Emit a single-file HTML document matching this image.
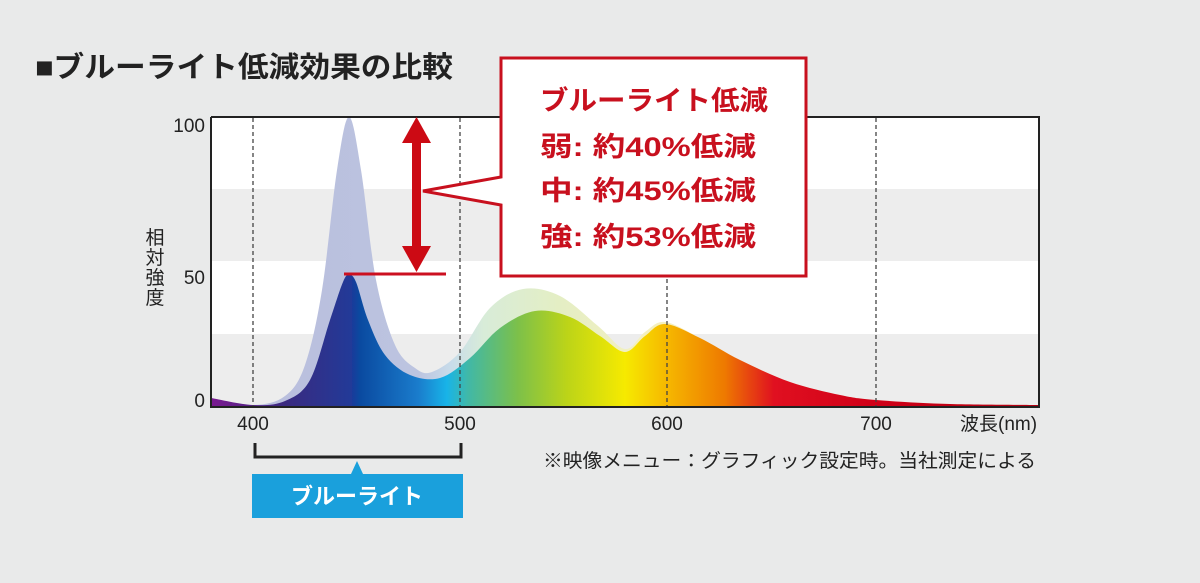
<!DOCTYPE html>
<html><head><meta charset="utf-8">
<style>
html,body{margin:0;padding:0;background:#e9eaea;}
svg{display:block;font-family:"Liberation Sans","Noto Sans CJK JP",sans-serif;}
</style></head><body>
<svg id="s" width="1200" height="583" viewBox="0 0 1200 583" xmlns="http://www.w3.org/2000/svg">
<defs>
<linearGradient id="g" gradientUnits="userSpaceOnUse" x1="211" y1="0" x2="1039" y2="0">
<stop offset="0" stop-color="#7a1a90"/>
<stop offset="0.09" stop-color="#3a2a80"/>
<stop offset="0.17" stop-color="#223a98"/>
<stop offset="0.165" stop-color="#1a3a9a"/>
<stop offset="0.18" stop-color="#0a4aa0"/>
<stop offset="0.25" stop-color="#1a7ccc"/>
<stop offset="0.285" stop-color="#18b4e8"/>
<stop offset="0.31" stop-color="#40b8a8"/>
<stop offset="0.37" stop-color="#7cc04a"/>
<stop offset="0.43" stop-color="#bcd418"/>
<stop offset="0.50" stop-color="#f6ea00"/>
<stop offset="0.55" stop-color="#f6b800"/>
<stop offset="0.62" stop-color="#ee7a00"/>
<stop offset="0.68" stop-color="#e01020"/>
<stop offset="0.80" stop-color="#d00018"/>
<stop offset="1" stop-color="#b00012"/>
</linearGradient>
<linearGradient id="gl" gradientUnits="userSpaceOnUse" x1="211" y1="0" x2="1039" y2="0">
<stop offset="0" stop-color="#b8bcdc"/>
<stop offset="0.25" stop-color="#bcc4e0"/>
<stop offset="0.29" stop-color="#c8dcea"/>
<stop offset="0.33" stop-color="#d8ecd8"/>
<stop offset="0.42" stop-color="#e4eec4"/>
<stop offset="0.52" stop-color="#f4f0c0"/>
<stop offset="1" stop-color="#f6e4c0"/>
</linearGradient>
</defs>
<text x="35" y="77" font-size="29" font-weight="bold" fill="#222" textLength="418" lengthAdjust="spacingAndGlyphs">■ブルーライト低減効果の比較</text>
<rect x="211" y="117" width="828" height="290" fill="#fff"/>
<rect x="211" y="189" width="828" height="72" fill="#ededed"/>
<rect x="211" y="334" width="828" height="72" fill="#ededed"/>
<path id="po" fill="url(#gl)"/>
<path id="pr" fill="url(#g)"/>
<g stroke="#444" stroke-width="1.3" stroke-dasharray="4,3">
<line x1="253" y1="118" x2="253" y2="406"/>
<line x1="460" y1="118" x2="460" y2="406"/>
<line x1="667" y1="118" x2="667" y2="406"/>
<line x1="876" y1="118" x2="876" y2="406"/>
</g>
<path d="M211,117 V407 H1039 V117 H211" fill="none" stroke="#222" stroke-width="2"/>
<g font-size="19" fill="#222" text-anchor="end">
<text x="205" y="132">100</text><text x="205" y="284">50</text><text x="205" y="407">0</text>
</g>
<g font-size="19" fill="#222" text-anchor="middle">
<text x="155" y="244">相</text><text x="155" y="264">対</text><text x="155" y="284">強</text><text x="155" y="304">度</text>
<text x="253" y="430">400</text><text x="460" y="430">500</text><text x="667" y="430">600</text><text x="876" y="430">700</text>
</g>
<text x="960" y="430" font-size="19" fill="#222">波長(nm)</text>
<text x="543" y="467" font-size="19" fill="#222" textLength="493" lengthAdjust="spacingAndGlyphs">※映像メニュー：グラフィック設定時。当社測定による</text>
<!-- arrow -->
<line x1="344" y1="274" x2="446" y2="274" stroke="#cc1020" stroke-width="3"/>
<rect x="412" y="140" width="9" height="110" fill="#cc0a14"/>
<polygon points="416.5,117 402,143 431,143" fill="#cc0a14"/>
<polygon points="416.5,272 402,246 431,246" fill="#cc0a14"/>
<!-- callout -->
<path d="M501,58 H806 V276 H501 V205 L423,191 L501,177 Z" fill="#fff" stroke="#c8101e" stroke-width="3"/>
<g font-size="27" font-weight="bold" fill="#c8101e">
<text x="540" y="110" textLength="228" lengthAdjust="spacingAndGlyphs">ブルーライト低減</text>
<text x="540" y="156" textLength="216" lengthAdjust="spacingAndGlyphs">弱: 約40%低減</text>
<text x="540" y="200" textLength="216" lengthAdjust="spacingAndGlyphs">中: 約45%低減</text>
<text x="540" y="246" textLength="216" lengthAdjust="spacingAndGlyphs">強: 約53%低減</text>
</g>
<!-- bracket -->
<path d="M255,443 V457 H461 V443" fill="none" stroke="#222" stroke-width="3"/>
<polygon points="357,461 351,474 363,474" fill="#1aa0dc"/>
<rect x="252" y="474" width="211" height="44" fill="#1aa0dc"/>
<text x="357" y="504" font-size="22" font-weight="bold" fill="#fff" text-anchor="middle">ブルーライト</text>
</svg>
<script>
function cr(p){var d="M"+p[0][0]+","+p[0][1];for(var i=0;i<p.length-1;i++){var a=p[i-1]||p[i],b=p[i],c=p[i+1],e=p[i+2]||c;
d+=" C"+(b[0]+(c[0]-a[0])/6).toFixed(1)+","+(b[1]+(c[1]-a[1])/6).toFixed(1)+" "+(c[0]-(e[0]-b[0])/6).toFixed(1)+","+(c[1]-(e[1]-b[1])/6).toFixed(1)+" "+c[0]+","+c[1];}
return d+" L1039,407 L211,407 Z";}
var tail=[[700,338],[740,360],[790,382],[840,395],[876,400],[950,404],[1039,405]];
var r=[[211,398],[253,405],[285,401],[310,380],[330,320],[343,282],[349,275],[356,282],[368,320],[385,355],[410,375],[440,378],[470,358],[500,328],[535,311],[570,317],[600,336],[625,352],[645,336],[665,324]].concat(tail);
var o=[[211,398],[253,405],[285,396],[305,365],[322,290],[337,170],[349,117],[361,170],[376,280],[395,345],[415,368],[432,372],[460,352],[490,308],[523,289],[560,296],[598,326],[625,349],[645,332],[665,322]].concat(tail);
document.getElementById("pr").setAttribute("d",cr(r));
document.getElementById("po").setAttribute("d",cr(o));
</script>
</body></html>
